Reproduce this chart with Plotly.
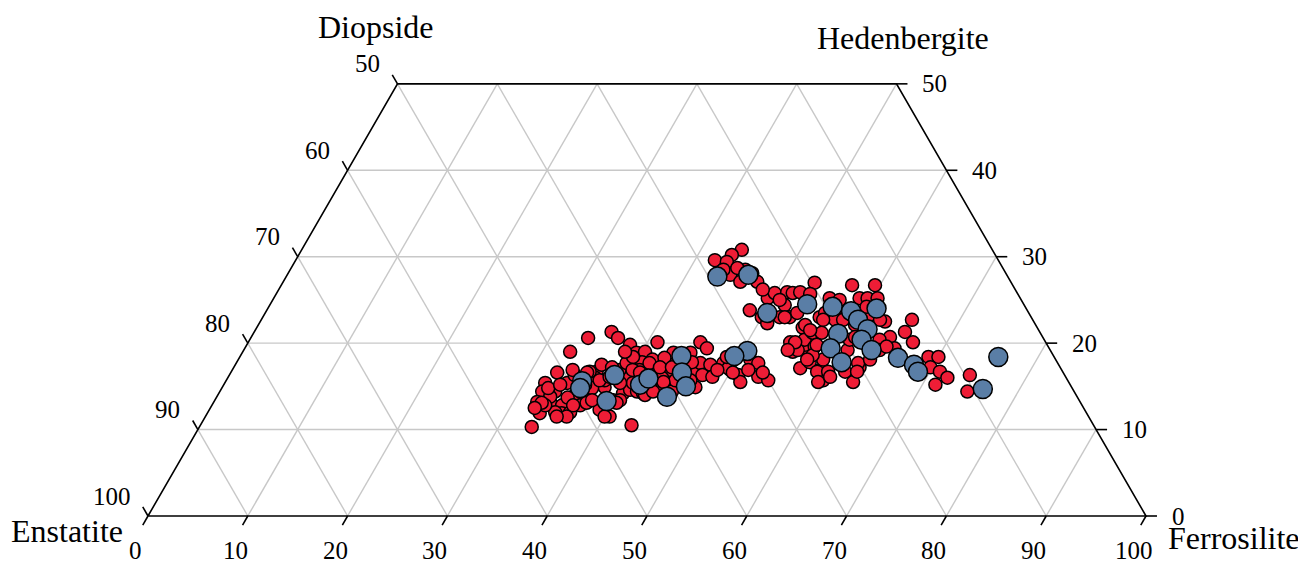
import math
import plotly.graph_objects as go

# ---- data: compositions (Wo = wollastonite %, Fs = ferrosilite %), En = 100 - Wo - Fs ----
red_wo = [10.3, 10.5, 20.6, 19.0, 21.3, 20.6, 19.8, 18.9, 20.1, 19.0, 17.8, 16.6, 15.4, 14.4, 13.2, 11.9,
          12.8, 14.4, 12.8, 11.9, 12.0, 15.4, 16.7, 17.5, 16.0, 14.9, 12.3, 11.5, 13.4, 14.8, 16.1, 14.2,
          14.6, 14.4, 14.2, 16.0, 16.9, 17.7, 16.6, 15.7, 18.1, 18.9, 18.9, 16.9, 18.1, 18.3, 16.9, 16.0,
          14.9, 14.0, 14.4, 18.4, 13.8, 14.8, 14.0, 13.4, 12.8, 15.2, 16.3, 16.7, 17.2, 15.7, 15.4, 15.2,
          16.9, 12.0, 15.2, 12.8, 13.7, 13.4, 17.7, 17.5, 16.3, 16.1, 14.9, 20.1, 19.4, 17.7, 16.9, 16.3,
          15.5, 18.1, 17.7, 16.1, 15.7, 17.1, 15.7, 15.7, 19.0, 30.8, 30.2, 29.6, 29.4, 27.9, 27.1, 27.1,
          28.5, 28.1, 28.7, 28.5, 25.2, 25.8, 25.9, 25.8, 24.4, 23.8, 23.0, 22.3, 23.0, 23.0, 19.0, 20.1,
          17.1, 18.6, 19.8, 27.0, 26.7, 26.7, 23.5, 21.8, 20.4, 19.2, 17.8, 16.9, 18.1, 19.6, 21.2, 21.2,
          23.0, 23.5, 19.2, 17.2, 15.5, 15.7, 22.5, 20.7, 25.2, 23.5, 23.0, 22.1, 20.1, 19.2, 16.7, 15.5,
          16.7, 18.6, 19.8, 17.7, 22.7, 21.3, 20.1, 19.4, 18.4, 18.4, 17.2, 16.7, 16.0, 15.2, 16.3, 14.4,
          25.9, 25.7, 25.2, 25.2, 25.2, 25.0, 26.2, 25.0, 22.1, 20.4, 20.4, 22.7, 23.3, 16.7, 19.2, 18.1,
          13.1, 12.8, 13.1, 13.4, 16.9, 16.6, 15.7, 16.1, 15.4, 16.9, 16.6, 17.7, 17.2, 17.2, 17.8, 14.4,
          11.5, 13.1, 11.5, 11.5, 12.5, 15.5, 16.9, 18.4, 16.6, 16.9, 16.6, 21.5, 22.7, 20.7, 22.7, 19.6,
          22.7, 18.1, 16.1, 16.7, 24.2]
red_fs = [33.3, 43.2, 33.8, 32.8, 35.8, 36.8, 38.4, 39.5, 41.0, 40.3, 40.6, 32.7, 32.1, 32.3, 32.4, 33.3,
          34.1, 33.6, 35.1, 35.5, 36.3, 34.3, 36.6, 36.7, 36.8, 38.3, 39.1, 40.5, 39.9, 37.1, 39.9, 40.5,
          41.0, 41.8, 42.5, 42.0, 38.8, 39.1, 42.7, 43.4, 43.0, 43.2, 44.9, 46.2, 41.5, 42.6, 43.9, 43.5,
          43.7, 42.8, 45.3, 39.4, 33.4, 32.7, 35.8, 37.1, 36.9, 33.7, 34.6, 35.9, 37.9, 37.9, 40.9, 42.7,
          40.8, 34.8, 36.2, 33.4, 35.2, 40.6, 46.5, 47.6, 47.4, 48.5, 47.4, 45.3, 46.3, 48.8, 49.9, 51.0,
          51.6, 51.3, 52.3, 53.1, 54.3, 49.6, 46.5, 45.0, 38.3, 44.1, 43.4, 42.0, 43.3, 44.4, 45.8, 47.5,
          45.6, 46.5, 44.7, 43.4, 49.5, 49.9, 51.1, 51.7, 51.6, 48.4, 50.0, 50.9, 51.8, 52.8, 55.1, 54.3,
          56.8, 56.8, 55.9, 53.3, 57.2, 59.5, 53.3, 54.7, 55.6, 55.5, 57.4, 58.9, 58.6, 57.0, 56.0, 56.9,
          55.8, 56.1, 60.5, 62.7, 62.9, 59.8, 62.6, 64.0, 58.7, 57.9, 52.3, 54.8, 54.8, 54.5, 58.7, 59.4,
          59.8, 57.3, 57.1, 62.3, 65.2, 65.2, 66.6, 65.1, 69.0, 70.0, 69.8, 71.0, 72.1, 71.3, 74.2, 74.9,
          52.4, 53.5, 55.7, 59.5, 60.5, 56.8, 48.5, 50.8, 59.8, 63.1, 60.1, 57.5, 60.7, 61.5, 63.7, 63.3,
          32.9, 36.2, 37.4, 37.8, 34.1, 35.7, 37.4, 38.2, 39.6, 40.1, 41.0, 41.4, 42.7, 43.9, 45.6, 43.4,
          40.0, 40.4, 36.2, 35.2, 32.5, 43.9, 48.6, 48.8, 50.3, 51.7, 53.3, 55.6, 58.3, 60.5, 62.0, 64.2,
          56.3, 57.0, 60.3, 62.7, 59.9]

blue_wo = [27.7, 27.9, 23.5, 24.5, 24.2, 23.7, 24.0, 22.7, 21.6, 21.1, 20.4, 19.2, 19.4, 17.8, 18.3, 17.5,
           16.7, 18.4, 14.7, 19.1, 18.5, 18.5, 16.6, 15.0, 13.8, 15.2, 16.3, 13.3, 15.6, 14.8, 15.9]
blue_fs = [43.2, 46.2, 50.3, 53.8, 56.5, 58.6, 61.0, 59.8, 61.3, 58.6, 61.3, 62.9, 58.7, 60.6, 66.0, 68.0,
           68.8, 76.0, 76.3, 50.5, 49.5, 44.2, 45.2, 46.4, 45.1, 41.7, 38.6, 39.3, 35.7, 35.9, 42.2]

fs_ticks = [0, 10, 20, 30, 40, 50, 60, 70, 80, 90, 100]   # bottom axis (Ferrosilite)
en_ticks = [50, 60, 70, 80, 90, 100]                       # left axis (Enstatite)
wo_ticks = [0, 10, 20, 30, 40, 50]                         # right axis (Wollastonite)
grid_steps = [10, 20, 30, 40, 50, 60, 70, 80, 90]
wo_grid = [10, 20, 30, 40]
WO_MAX = 50

end_members = {"Diopside": (22.85, 49.0), "Hedenbergite": (75.65, 47.9),
               "Enstatite": (-8.1, -1.5), "Ferrosilite": (108.8, -2.2)}

S = math.sqrt(3) / 2


def xy(wo, fs):
    return fs + wo / 2.0, wo * S


FONT = "Liberation Serif"
fig = go.Figure()

# ---- grid ----
gx, gy = [], []
for w in wo_grid:  # constant Wo (horizontal)
    for (a, b) in [(w, 0), (w, 100 - w)]:
        x, y = xy(a, b); gx.append(x); gy.append(y)
    gx.append(None); gy.append(None)
for f in grid_steps:  # constant Fs
    wtop = min(WO_MAX, 100 - f)
    for w in (0, wtop):
        x, y = xy(w, f); gx.append(x); gy.append(y)
    gx.append(None); gy.append(None)
for b in grid_steps:  # constant En (Fs + Wo = b)
    wtop = min(WO_MAX, b)
    for w in (0, wtop):
        x, y = xy(w, b - w); gx.append(x); gy.append(y)
    gx.append(None); gy.append(None)
fig.add_trace(go.Scatter(x=gx, y=gy, mode="lines", line=dict(color="#c8c8c8", width=1.4),
                         hoverinfo="skip", showlegend=False))

# ---- outline ----
corners = [(0, 0), (0, 100), (WO_MAX, 100 - WO_MAX), (WO_MAX, 0), (0, 0)]
ox = [xy(w, f)[0] for w, f in corners]
oy = [xy(w, f)[1] for w, f in corners]
fig.add_trace(go.Scatter(x=ox, y=oy, mode="lines", line=dict(color="black", width=1.6),
                         hoverinfo="skip", showlegend=False))

# ---- ticks ----
L = 1.05
tx, ty = [], []
for f in fs_ticks:
    x, y = xy(0, f)
    tx += [x, x - 0.5 * L, None]; ty += [y, y - S * L, None]
for e in en_ticks:
    w = 100 - e
    x, y = xy(w, 0)
    tx += [x, x - 0.5 * L, None]; ty += [y, y + S * L, None]
for w in wo_ticks:
    x, y = xy(w, 100 - w)
    tx += [x, x + 1.1, None]; ty += [y, y, None]
fig.add_trace(go.Scatter(x=tx, y=ty, mode="lines", line=dict(color="black", width=1.6),
                         hoverinfo="skip", showlegend=False))

# ---- data ----
rx = [xy(w, f)[0] for w, f in zip(red_wo, red_fs)]
ry = [xy(w, f)[1] for w, f in zip(red_wo, red_fs)]
fig.add_trace(go.Scatter(x=rx, y=ry, mode="markers",
                         marker=dict(size=13, color="#EE1D36", line=dict(color="black", width=1.5)),
                         showlegend=False))
bx = [xy(w, f)[0] for w, f in zip(blue_wo, blue_fs)]
by = [xy(w, f)[1] for w, f in zip(blue_wo, blue_fs)]
fig.add_trace(go.Scatter(x=bx, y=by, mode="markers",
                         marker=dict(size=19, color="#5A7EA6", line=dict(color="black", width=1.5)),
                         showlegend=False))

# ---- labels ----
ann = []
for f in fs_ticks:
    x, y = xy(0, f)
    ann.append(dict(x=x - 1.25, y=-3.5, text=str(f), xanchor="center", yanchor="middle"))
for e in en_ticks:
    x, y = xy(100 - e, 0)
    ann.append(dict(x=x - 1.55, y=y + 2.0, text=str(e), xanchor="right", yanchor="middle"))
for w in wo_ticks:
    x, y = xy(w, 100 - w)
    ann.append(dict(x=x + 2.4, y=y, text=str(w), xanchor="left", yanchor="middle"))
for a in ann:
    a.update(xref="x", yref="y", showarrow=False, font=dict(family=FONT, size=25, color="black"))
for name, (x, y) in end_members.items():
    ann.append(dict(x=x, y=y, text=name, xref="x", yref="y", showarrow=False,
                    xanchor="center", yanchor="middle", font=dict(family=FONT, size=32, color="black")))

# page body has an 8px margin: the figure occupies window pixels 8..1306 x 8..562
px_per = 9.98
OFF = 8
fig.update_layout(
    width=1306 - OFF, height=562 - OFF, autosize=False,
    margin=dict(l=0, r=0, t=0, b=0, pad=0),
    paper_bgcolor="white", plot_bgcolor="white",
    xaxis=dict(range=[(OFF - 148) / px_per, (1306 - 148) / px_per], visible=False, fixedrange=True),
    yaxis=dict(range=[(516 - 562) / px_per, (516 - OFF) / px_per], visible=False, fixedrange=True),
    annotations=ann, hovermode=False, showlegend=False,
)
fig.write_html("out.html", config={"displayModeBar": False})
